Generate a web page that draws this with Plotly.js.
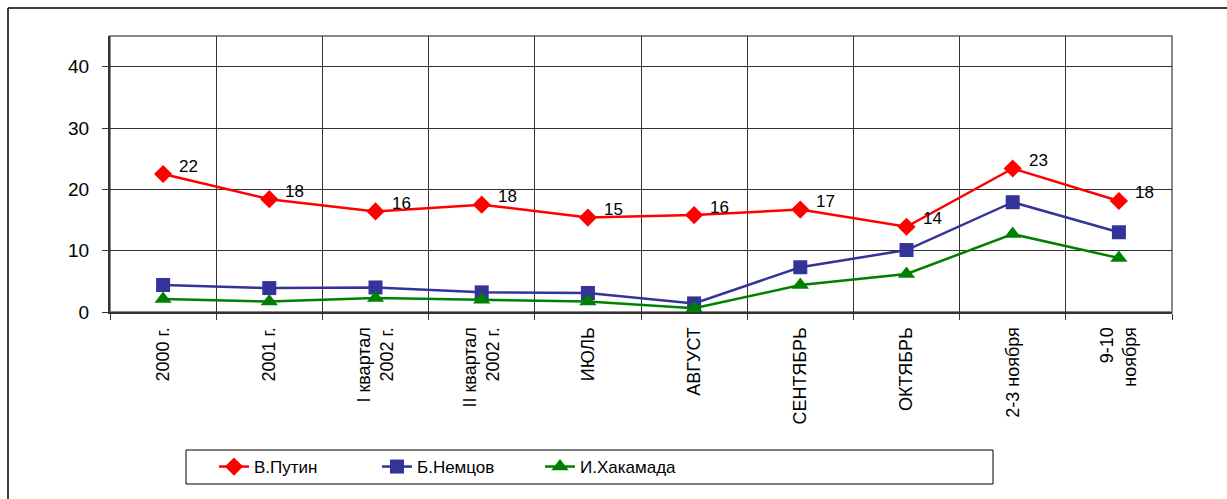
<!DOCTYPE html>
<html>
<head>
<meta charset="utf-8">
<script src="https://cdn.plot.ly/plotly-3.0.1.min.js"></script>
<style>html,body{margin:0;padding:0;background:#fff;}#chart{width:1227px;height:499px;}</style>
</head>
<body>
<div id="chart"></div>
<script>
var categories = ["2000 г.", "2001 г.", "I квартал<br>2002 г.", "II квартал<br>2002 г.", "ИЮЛЬ", "АВГУСТ", "СЕНТЯБРЬ", "ОКТЯБРЬ", "2-3 ноября", "9-10<br>ноября"];
var putin = [22.5, 18.4, 16.4, 17.5, 15.4, 15.8, 16.7, 13.9, 23.4, 18.1];
var putinLabels = ["22", "18", "16", "18", "15", "16", "17", "14", "23", "18"];
var nemtsov = [4.4, 3.9, 4.0, 3.2, 3.1, 1.4, 7.3, 10.1, 17.9, 13.0];
var khakamada = [2.1, 1.7, 2.3, 2.0, 1.7, 0.6, 4.4, 6.2, 12.7, 8.8];
var seriesNames = ["В.Путин", "Б.Немцов", "И.Хакамада"];

var baseFont = "Liberation Sans";

var traces = [
  {x: categories, y: putin, name: seriesNames[0], type: "scatter", mode: "lines+markers",
   line: {color: "#FF0000", width: 2.5}, marker: {symbol: "diamond", size: 14, color: "#FF0000"}, cliponaxis: false},
  {x: categories, y: nemtsov, name: seriesNames[1], type: "scatter", mode: "lines+markers",
   line: {color: "#333399", width: 2.5}, marker: {symbol: "square", size: 14, color: "#333399"}, cliponaxis: false},
  {x: categories, y: khakamada, name: seriesNames[2], type: "scatter", mode: "lines+markers",
   line: {color: "#008000", width: 2.5}, marker: {symbol: "triangle-up", size: 15, color: "#008000"}, cliponaxis: false}
];

var labelAnnotations = categories.map(function(c, i){
  return {x: c, y: putin[i], xref: "x", yref: "y", text: putinLabels[i], showarrow: false,
          xanchor: "left", yanchor: "middle", xshift: 14, yshift: 8,
          font: {family: baseFont, size: 17, color: "#000"}};
});

var L = 110, R = 1172, T = 36, B = 312;
function px(x){ return (x - L) / (R - L); }
function py(y){ return (B - y) / (B - T); }

var layout = {
  width: 1227, height: 499,
  margin: {l: L, r: 1227 - R, t: T, b: 499 - B},
  paper_bgcolor: "#fff", plot_bgcolor: "#fff",
  font: {family: baseFont, size: 17, color: "#000"},
  showlegend: true,
  hovermode: false,
  xaxis: {
    type: "category", range: [-0.5, 9.5], tickson: "boundaries", ticks: "outside", ticklen: 6, tickcolor: "#333",
    showgrid: true, gridcolor: "#333", gridwidth: 1,
    showline: true, linecolor: "#333", linewidth: 2,
    tickangle: -90, tickfont: {family: baseFont, size: 18, color: "#000"},
    ticklabelstandoff: 6, fixedrange: true
  },
  yaxis: {
    range: [0, 45], tickvals: [0, 10, 20, 30, 40], ticks: "outside", ticklen: 6, tickcolor: "#333",
    showgrid: true, gridcolor: "#333", gridwidth: 1, zeroline: false,
    showline: true, linecolor: "#333", linewidth: 2,
    tickfont: {family: baseFont, size: 19, color: "#000"}, ticklabelstandoff: 9, fixedrange: true
  },
  legend: {
    orientation: "h", x: px(214), xanchor: "left", y: py(467), yanchor: "middle",
    font: {family: baseFont, size: 17, color: "#000"},
    bgcolor: "rgba(0,0,0,0)", borderwidth: 0,
    entrywidth: 118, entrywidthmode: "pixels"
  },
  annotations: labelAnnotations,
  shapes: [
    {type: "rect", xref: "paper", yref: "paper", x0: 0, x1: 1, y0: 0, y1: 1,
     line: {color: "#888", width: 2}, layer: "below"},
    {type: "rect", xref: "paper", yref: "paper", x0: px(186), x1: px(993), y0: py(450), y1: py(484),
     line: {color: "#000", width: 1}},
    {type: "line", xref: "paper", yref: "paper", x0: px(8), x1: px(8), y0: py(8), y1: py(499),
     line: {color: "#000", width: 1.5}},
    {type: "line", xref: "paper", yref: "paper", x0: px(8), x1: px(1227), y0: py(8), y1: py(8),
     line: {color: "#000", width: 1.5}}
  ]
};

Plotly.newPlot("chart", traces, layout, {displayModeBar: false, staticPlot: true});
</script>
</body>
</html>
